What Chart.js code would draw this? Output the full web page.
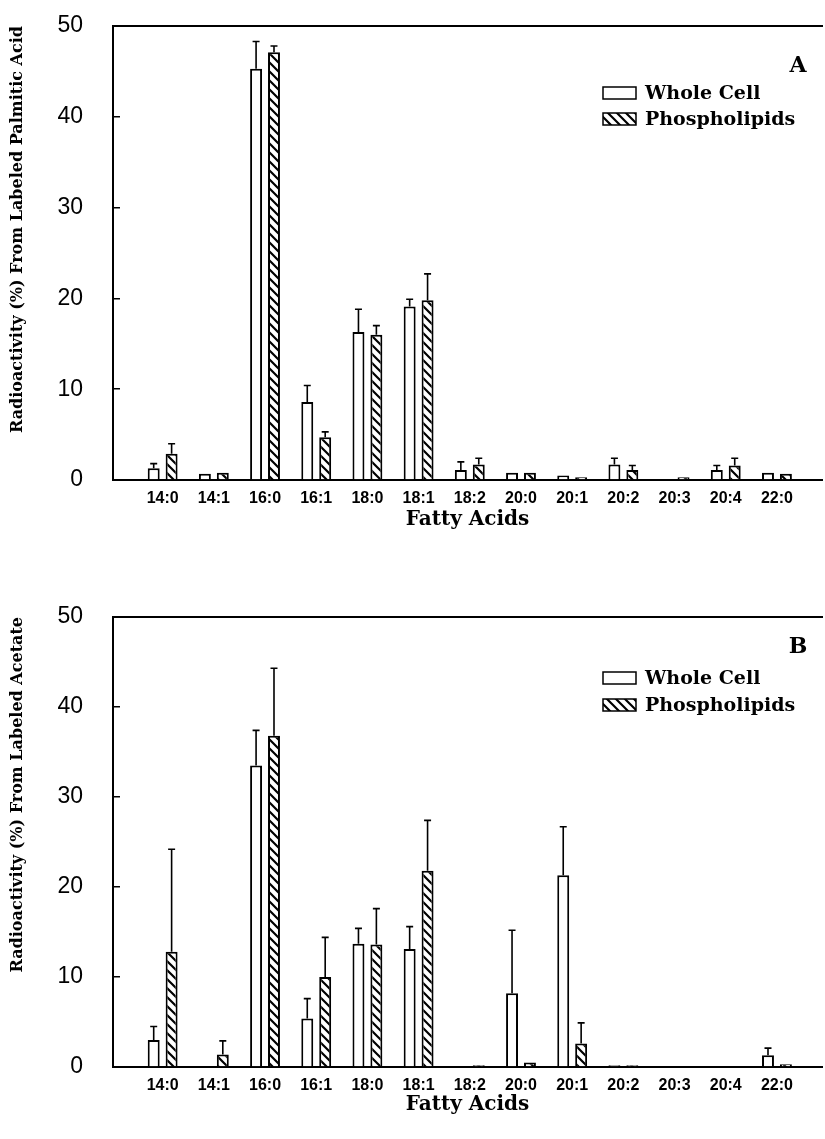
<!DOCTYPE html>
<html>
<head>
<meta charset="utf-8">
<script src="https://cdn.jsdelivr.net/npm/chart.js@4.4.1/dist/chart.umd.min.js"></script>
<style>
  body { margin: 0; background: #fff; }
  canvas { display: block; }
</style>
</head>
<body>
<canvas id="chartA" width="825" height="560"></canvas>
<canvas id="chartB" width="825" height="579"></canvas>
<script>
// Fatty acid composition, panels A (palmitic acid) and B (acetate)

const fattyAcids = ['14:0', '14:1', '16:0', '16:1', '18:0', '18:1', '18:2', '20:0', '20:1', '20:2', '20:3', '20:4', '22:0'];
const yTicks = [0, 10, 20, 30, 40, 50];

// Panel A - labeled palmitic acid
const palmWholeCell = [1.3, 0.7, 45.3, 8.6, 16.3, 19.1, 1.1, 0.8, 0.5, 1.7, 0, 1.1, 0.8];
const palmWholeCellSd = [0.5, 0, 3.0, 1.8, 2.5, 0.8, 0.9, 0, 0, 0.7, 0, 0.5, 0];
const palmPhospho = [2.9, 0.8, 47.1, 4.7, 16.0, 19.8, 1.7, 0.8, 0.3, 1.1, 0.3, 1.6, 0.7];
const palmPhosphoSd = [1.1, 0, 0.7, 0.6, 1.0, 2.9, 0.7, 0, 0, 0.5, 0, 0.8, 0];

// Panel B - labeled acetate
const acetWholeCell = [3.0, 0.1, 33.5, 5.4, 13.7, 13.1, 0, 8.2, 21.3, 0.2, 0, 0, 1.3];
const acetWholeCellSd = [1.5, 0, 3.9, 2.2, 1.7, 2.5, 0, 7.0, 5.4, 0, 0, 0, 0.8];
const acetPhospho = [12.8, 1.4, 36.8, 10.0, 13.6, 21.8, 0.2, 0.5, 2.6, 0.2, 0, 0, 0.3];
const acetPhosphoSd = [11.4, 1.5, 7.5, 4.4, 4.0, 5.6, 0, 0, 2.3, 0, 0, 0, 0];

const serif = '"DejaVu Serif", "Liberation Serif", serif';
const sans = '"Liberation Sans", Arial, sans-serif';

/**
 * Diagonal hatch (\\\) used for the phospholipid bars
 */
function makeHatch(ctx) {
    const c = document.createElement('canvas');
    c.width = 9;
    c.height = 9;
    const g = c.getContext('2d');
    g.fillStyle = '#fff';
    g.fillRect(0, 0, 9, 9);
    g.strokeStyle = '#000';
    g.lineWidth = 2.2;
    g.beginPath();
    g.moveTo(-2, -2); g.lineTo(11, 11);
    g.moveTo(-2, 7); g.lineTo(2, 11);
    g.moveTo(7, -2); g.lineTo(11, 2);
    g.stroke();
    return ctx.createPattern(c, 'repeat');
}

// upward error bars from dataset.errors
const errorBars = {
    id: 'errorBars',
    afterDatasetsDraw(chart) {
        const ctx = chart.ctx;
        const yScale = chart.scales.y;
        ctx.save();
        ctx.strokeStyle = '#000';
        ctx.lineWidth = 1.6;
        chart.data.datasets.forEach((ds, di) => {
            const meta = chart.getDatasetMeta(di);
            meta.data.forEach((bar, i) => {
                const sd = ds.errors[i];
                if (!sd) return;
                const top = yScale.getPixelForValue(ds.data[i].y + sd);
                ctx.beginPath();
                ctx.moveTo(bar.x, bar.y);
                ctx.lineTo(bar.x, top);
                ctx.moveTo(bar.x - 3.5, top);
                ctx.lineTo(bar.x + 3.5, top);
                ctx.stroke();
            });
        });
        ctx.restore();
    }
};

// panel letter + boxed legend inside the plot
const panelLegend = {
    id: 'panelLegend',
    afterDraw(chart, args, opts) {
        const ctx = chart.ctx;
        const top = chart.chartArea.top;
        ctx.save();
        ctx.fillStyle = '#000';
        ctx.textBaseline = 'middle';
        ctx.textAlign = 'center';
        ctx.font = 'bold 22px ' + serif;
        ctx.fillText(opts.letter, 798, top + opts.letterDy);
        ctx.textAlign = 'left';
        ctx.font = 'bold 19px ' + serif;
        chart.data.datasets.forEach((ds, i) => {
            const cy = top + opts.rowDy[i];
            ctx.fillStyle = ds.backgroundColor;
            ctx.fillRect(603, cy - 6, 33, 12);
            ctx.lineWidth = 1.5;
            ctx.strokeStyle = '#000';
            ctx.strokeRect(603, cy - 6, 33, 12);
            ctx.fillStyle = '#000';
            ctx.fillText(ds.label, 645, cy + 1);
        });
        ctx.restore();
    }
};

function buildPanel(canvasId, cfg) {
    const canvas = document.getElementById(canvasId);
    const ctx = canvas.getContext('2d');
    const hatch = makeHatch(ctx);
    const xMin = -0.97;
    const xMax = 12.88;

    return new Chart(canvas, {
        type: 'bar',
        data: {
            datasets: [
                {
                    label: 'Whole Cell',
                    data: cfg.whole.map((v, i) => ({ x: i, y: v })),
                    errors: cfg.wholeSd,
                    backgroundColor: '#fff',
                    borderColor: '#000',
                    borderWidth: 2,
                    categoryPercentage: 0.70,
                    barPercentage: 0.667
                },
                {
                    label: 'Phospholipids',
                    data: cfg.phospho.map((v, i) => ({ x: i, y: v })),
                    errors: cfg.phosphoSd,
                    backgroundColor: hatch,
                    borderColor: '#000',
                    borderWidth: 2,
                    categoryPercentage: 0.70,
                    barPercentage: 0.667
                }
            ]
        },
        options: {
            responsive: false,
            animation: false,
            layout: {
                padding: { top: cfg.top, right: 3, left: 0, bottom: 0 }
            },
            plugins: {
                legend: { display: false },
                tooltip: { enabled: false },
                panelLegend: {
                    letter: cfg.letter,
                    letterDy: cfg.letterDy,
                    rowDy: cfg.rowDy
                }
            },
            scales: {
                x: {
                    type: 'linear',
                    position: 'bottom',
                    min: xMin,
                    max: xMax,
                    offset: false,
                    afterBuildTicks: s => { s.ticks = fattyAcids.map((_, i) => ({ value: i })); },
                    afterFit: s => {
                        s.height = cfg.xHeight;
                        s.paddingLeft = 0;
                        s.paddingRight = 0;
                    },
                    grid: { display: true, drawOnChartArea: false, drawTicks: false },
                    border: { display: true, color: '#000', width: 2 },
                    ticks: {
                        autoSkip: false,
                        maxRotation: 0,
                        padding: 9,
                        color: '#000',
                        font: { family: sans, size: 16, weight: 'bold' },
                        callback: v => fattyAcids[v]
                    },
                    title: {
                        display: true,
                        text: 'Fatty Acids',
                        color: '#000',
                        font: { family: serif, size: 20, weight: 'bold' },
                        padding: { top: 0, bottom: cfg.xTitlePad }
                    }
                },
                xTop: {
                    type: 'linear',
                    position: 'top',
                    min: xMin,
                    max: xMax,
                    afterFit: s => {
                        s.height = 0;
                        s.paddingLeft = 0;
                        s.paddingRight = 0;
                    },
                    grid: { display: false },
                    ticks: { display: false },
                    border: { display: true, color: '#000', width: 2 }
                },
                y: {
                    min: 0,
                    max: 50,
                    afterBuildTicks: s => { s.ticks = yTicks.map(v => ({ value: v })); },
                    afterFit: s => {
                        s.width = 113;
                        s.paddingTop = 0;
                        s.paddingBottom = 0;
                    },
                    grid: {
                        display: true,
                        drawOnChartArea: false,
                        drawTicks: true,
                        tickLength: -7,
                        color: '#000',
                        lineWidth: 1.5
                    },
                    border: { display: true, color: '#000', width: 2 },
                    ticks: {
                        padding: 37,
                        color: '#000',
                        font: { family: sans, size: 23 }
                    },
                    title: {
                        display: true,
                        text: cfg.yTitle,
                        align: 'end',
                        color: '#000',
                        font: { family: serif, size: 16, weight: 'bold' },
                        padding: { top: 8, bottom: 0 }
                    }
                }
            }
        },
        plugins: [errorBars, panelLegend]
    });
}

buildPanel('chartA', {
    whole: palmWholeCell,
    wholeSd: palmWholeCellSd,
    phospho: palmPhospho,
    phosphoSd: palmPhosphoSd,
    yTitle: 'Radioactivity (%) From Labeled Palmitic Acid',
    letter: 'A',
    top: 26,
    xHeight: 80,
    xTitlePad: 28,
    letterDy: 40,
    rowDy: [67, 93]
});

buildPanel('chartB', {
    whole: acetWholeCell,
    wholeSd: acetWholeCellSd,
    phospho: acetPhospho,
    phosphoSd: acetPhosphoSd,
    yTitle: 'Radioactivity (%) From Labeled Acetate',
    letter: 'B',
    top: 57,
    xHeight: 72,
    xTitlePad: 22,
    letterDy: 30,
    rowDy: [61, 88]
});
</script>
</body>
</html>
